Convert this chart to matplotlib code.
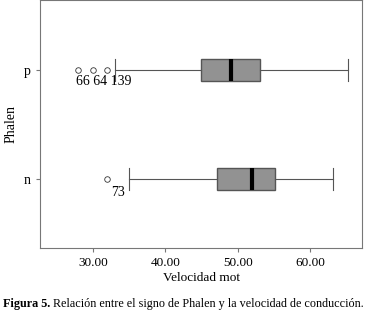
import matplotlib
matplotlib.use("Agg")
import matplotlib.pyplot as plt

plt.rcParams['font.family'] = ['Liberation Serif', 'DejaVu Serif']

groups = ["n", "p"]
q1 = [47.1, 45.0]
med = [52.0, 49.1]
q3 = [55.2, 53.1]
whislo = [35.0, 33.0]
whishi = [63.2, 65.3]
fliers = [[31.9], [27.9, 30.0, 31.9]]
flier_ids = [["73"], ["66", "64", "139"]]

stats = []
for i, g in enumerate(groups):
    stats.append(dict(label=g, q1=q1[i], med=med[i], q3=q3[i],
                      whislo=whislo[i], whishi=whishi[i], fliers=fliers[i]))

fig = plt.figure(figsize=(3.65, 3.18), dpi=100)
ax = fig.add_axes([0.11, 0.22, 0.882, 0.78])

edge = "#555555"
ax.bxp(stats, positions=[1, 2], vert=False, widths=0.21, patch_artist=True,
       boxprops=dict(facecolor="#929292", edgecolor=edge, linewidth=1.0),
       medianprops=dict(color="black", linewidth=3),
       whiskerprops=dict(color=edge, linewidth=0.8),
       capprops=dict(color=edge, linewidth=0.8),
       capwidths=0.21,
       flierprops=dict(marker="o", markersize=4, markerfacecolor="white",
                       markeredgecolor="#333333", markeredgewidth=0.6))

# outlier case numbers
for i in range(len(groups)):
    ids = flier_ids[i]
    if len(ids) == 1:
        ax.text(fliers[i][0] + 0.6, i + 1 - 0.06, ids[0], fontsize=10,
                ha="left", va="top")
    else:
        ax.text(fliers[i][0] - 0.3, i + 1 - 0.045, " ".join(ids), fontsize=10,
                ha="left", va="top")

ax.set_xlim(22.7, 67.2)
ax.set_ylim(0.367, 2.642)
ax.set_xticks([30, 40, 50, 60])
ax.set_xticklabels(["30.00", "40.00", "50.00", "60.00"], fontsize=9.5)
ax.set_yticks([1, 2])
ax.set_yticklabels(groups, fontsize=10)
ax.set_xlabel("Velocidad mot", fontsize=9.5, labelpad=2)
ax.set_ylabel("Phalen", fontsize=10, labelpad=5)
for s in ax.spines.values():
    s.set_color("#777777")
    s.set_linewidth(0.8)
ax.tick_params(colors="#777777", labelcolor="black", length=3, width=0.8)

t1 = fig.text(0.008, 0.025, "Figura 5.", fontsize=8.7, fontweight="bold",
              ha="left", va="bottom")
r = fig.canvas.get_renderer()
bb = t1.get_window_extent(renderer=r)
fig.text((bb.x1 + 3) / fig.bbox.width, 0.025,
         "Relación entre el signo de Phalen y la velocidad de conducción.",
         fontsize=8.7, ha="left", va="bottom")

fig.savefig("out.png", dpi=100)
